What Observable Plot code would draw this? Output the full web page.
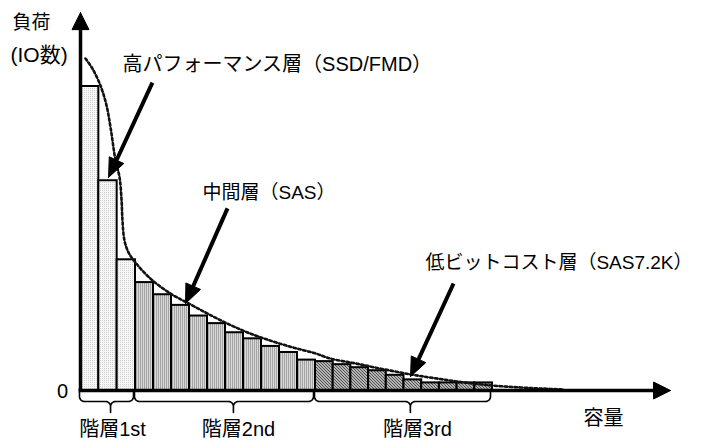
<!DOCTYPE html>
<html><head><meta charset="utf-8">
<script src="https://cdn.jsdelivr.net/npm/d3@7"></script>
<script src="https://cdn.jsdelivr.net/npm/@observablehq/plot@0.6"></script>
<style>body{margin:0;background:#fff} svg{display:block}</style>
</head><body><div id="chart"></div>
<script>
// ---- data ----
const tierNames = ["階層1st", "階層2nd", "階層3rd"];
const tierStart = [0, 3, 13];
const tierEnd = [3, 13, 23];
const braceCenter = [1.64, 8.44, 18.36];
const tierLabelX = [1.75, 8.72, 18.76];
const loads = [100, 69, 43, 35.5, 31.5, 28, 24.5, 22, 19, 17, 14.5, 12.5, 10,
               9.5, 8.5, 7.5, 6.5, 5, 3.5, 2.5, 2.5, 2.5, 2.5];
const curveX = [0.27, 0.65, 1.09, 1.42, 1.64, 1.91, 2.13, 2.24, 2.29, 2.40, 2.62, 3.0, 3.83, 4.94, 6.06, 7.0, 8.11, 9.22, 10.5, 11.78, 13.0, 13.85, 15.26, 16.67, 18.37, 19.89, 21.47, 23.05, 24.58, 25.71, 27.01];
const curveY = [109.2, 105.9, 100.3, 93.75, 86.5, 75.7, 70.1, 62.5, 55.9, 49.3, 45.4, 42.1, 36.8, 31.9, 28.3, 25.3, 22.0, 19.1, 16.4, 14.1, 12.2, 10.5, 8.9, 7.2, 5.3, 3.9, 2.6, 1.6, 1.0, 0.66, 0.33];
const annText = ["高パフォーマンス層（SSD/FMD）", "中間層（SAS）", "低ビットコスト層（SAS7.2K）"];
const annTextX = [2.29, 6.72, 19.21];
const annTextY = [107.2, 65.1, 42.1];
const annTailX = [3.94, 8.11, 20.8];
const annTailY = [101.3, 59.9, 35.2];
const annTipX = [1.53, 5.78, 18.37];
const annTipY = [70.1, 28.6, 4.6];
const yLabel1 = "負荷", yLabel2 = "(IO数)", xLabel = "容量", zeroLabel = "0";
const axisTail = [[-0.11, 0], [0, 0]];
const axisTip = [[33.06, 0], [0, 124.3]];

// ---- scales ----
const xOpt = {type: "linear", domain: [0, 3, 13, 23], range: [80, 135, 315, 492]};
const yOpt = {type: "linear", domain: [0, 100], range: [390, 86]};
const X = d3.scaleLinear(xOpt.domain, xOpt.range);
const Y = d3.scaleLinear(yOpt.domain, yOpt.range);

const bars = loads.map((v, i) => ({i, v, tier: tierStart.filter(s => i >= s).length - 1}));

function arrow(tail, tip, L, W, id) {
  const tx = X(tip[0]), ty = Y(tip[1]), ax = X(tail[0]), ay = Y(tail[1]);
  const d = Math.hypot(tx - ax, ty - ay), ux = (tx - ax) / d, uy = (ty - ay) / d;
  const bx = tx - ux * L, by = ty - uy * L, px = -uy, py = ux;
  const pts = [[tx, ty], [bx + px * W / 2, by + py * W / 2], [bx - px * W / 2, by - py * W / 2], [tx, ty]];
  return {
    tri: pts.map(([x, y]) => ({x: X.invert(x), y: Y.invert(y), id})),
    shaft: {x1: tail[0], y1: tail[1], x2: X.invert(bx + ux * 2), y2: Y.invert(by + uy * 2)}
  };
}
const axArrows = axisTail.map((t, k) => arrow(t, axisTip[k], 17, 17, "ax" + k));
const anArrows = annTipX.map((_, k) => arrow([annTailX[k], annTailY[k]], [annTipX[k], annTipY[k]], 19, 16, "an" + k));

function brace(k) {
  const x0 = X(tierStart[k]) - 1, x1 = X(tierEnd[k]) - 2, xc = X(braceCenter[k]);
  const yT = 392, yH = 401, yP = 412, r = 5, pts = [];
  const arc = (cx, cy, a0, a1) => { for (let s = 0; s <= 8; s++) { const a = a0 + (a1 - a0) * s / 8; pts.push([cx + r * Math.cos(a), cy + r * Math.sin(a)]); } };
  pts.push([x0, yT]);
  arc(x0 + r, yH - r, Math.PI, Math.PI / 2);
  arc(xc - r, yH + r, -Math.PI / 2, 0);
  pts.push([xc, yP]);
  arc(xc + r, yH + r, Math.PI, 1.5 * Math.PI);
  arc(x1 - r, yH - r, Math.PI / 2, 0);
  pts.push([x1, yT]);
  return pts.map(([x, y]) => ({x: X.invert(x), y: Y.invert(y), id: k}));
}
const braces = tierNames.flatMap((_, k) => brace(k));
const curve = curveX.map((x, k) => ({x, y: curveY[k]}));
const fills = ["url(#pt1)", "url(#pt2)", "url(#pt3)"];
const annFont = [20, 19, 19];

const svg = Plot.plot({
  width: 702, height: 441, margin: 0,
  x: {...xOpt, axis: null}, y: {...yOpt, axis: null},
  style: {fontFamily: "'Liberation Sans', 'Noto Sans CJK JP', sans-serif", background: "white", color: "black"},
  marks: [
    ...[0, 1, 2].map(t => Plot.rect(bars.filter(b => b.tier === t), {
      x1: "i", x2: d => d.i + 1, y1: 0, y2: "v", fill: fills[t], stroke: "black", strokeWidth: 2
    })),
    Plot.line(curve, {x: "x", y: "y", curve: "catmull-rom", stroke: "#111", strokeWidth: 2.6, strokeDasharray: "2.5,2.5"}),
    Plot.link(axArrows.map(a => a.shaft), {x1: "x1", y1: "y1", x2: "x2", y2: "y2", stroke: "black", strokeWidth: 3.5}),
    Plot.link(anArrows.map(a => a.shaft), {x1: "x1", y1: "y1", x2: "x2", y2: "y2", stroke: "black", strokeWidth: 4}),
    Plot.line([...axArrows, ...anArrows].flatMap(a => a.tri), {x: "x", y: "y", z: "id", fill: "black", stroke: "black", strokeWidth: 1}),
    Plot.line(braces, {x: "x", y: "y", z: "id", stroke: "black", strokeWidth: 1.6}),
    ...annText.map((t, k) => Plot.text([t], {x: annTextX[k], y: annTextY[k], text: d => d, textAnchor: "start", fontSize: annFont[k]})),
    Plot.text(tierNames, {x: (d, k) => tierLabelX[k], y: -12.8, text: d => d, fontSize: 20}),
    Plot.text([xLabel], {x: 29.27, y: -9.2, text: d => d, fontSize: 20}),
    Plot.text([zeroLabel], {x: -0.98, y: -0.33, text: d => d, fontSize: 20}),
    Plot.text([yLabel1], {x: -3.71, y: 121, text: d => d, textAnchor: "start", fontSize: 19}),
    Plot.text([yLabel2], {x: -3.82, y: 110.2, text: d => d, textAnchor: "start", fontSize: 21})
  ]
});

const defs = d3.select(svg).insert("defs", ":first-child");
const p1 = defs.append("pattern").attr("id", "pt1").attr("patternUnits", "userSpaceOnUse").attr("width", 2).attr("height", 2);
p1.append("rect").attr("width", 2).attr("height", 2).attr("fill", "#f7f7f7");
p1.append("rect").attr("width", 1).attr("height", 1).attr("fill", "#d0d0d0");
const p2 = defs.append("pattern").attr("id", "pt2").attr("patternUnits", "userSpaceOnUse").attr("width", 2).attr("height", 2);
p2.append("rect").attr("width", 2).attr("height", 2).attr("fill", "#d8d8d8");
p2.append("rect").attr("width", 1).attr("height", 2).attr("fill", "#a4a4a4");
const p3 = defs.append("pattern").attr("id", "pt3").attr("patternUnits", "userSpaceOnUse").attr("width", 3).attr("height", 3);
p3.append("rect").attr("width", 3).attr("height", 3).attr("fill", "#dedede");
p3.append("path").attr("d", "M0,0L3,3M-1,2L1,4M2,-1L4,1").attr("stroke", "#4a4a4a").attr("stroke-width", 1.1);

document.getElementById("chart").appendChild(svg);
</script></body></html>
